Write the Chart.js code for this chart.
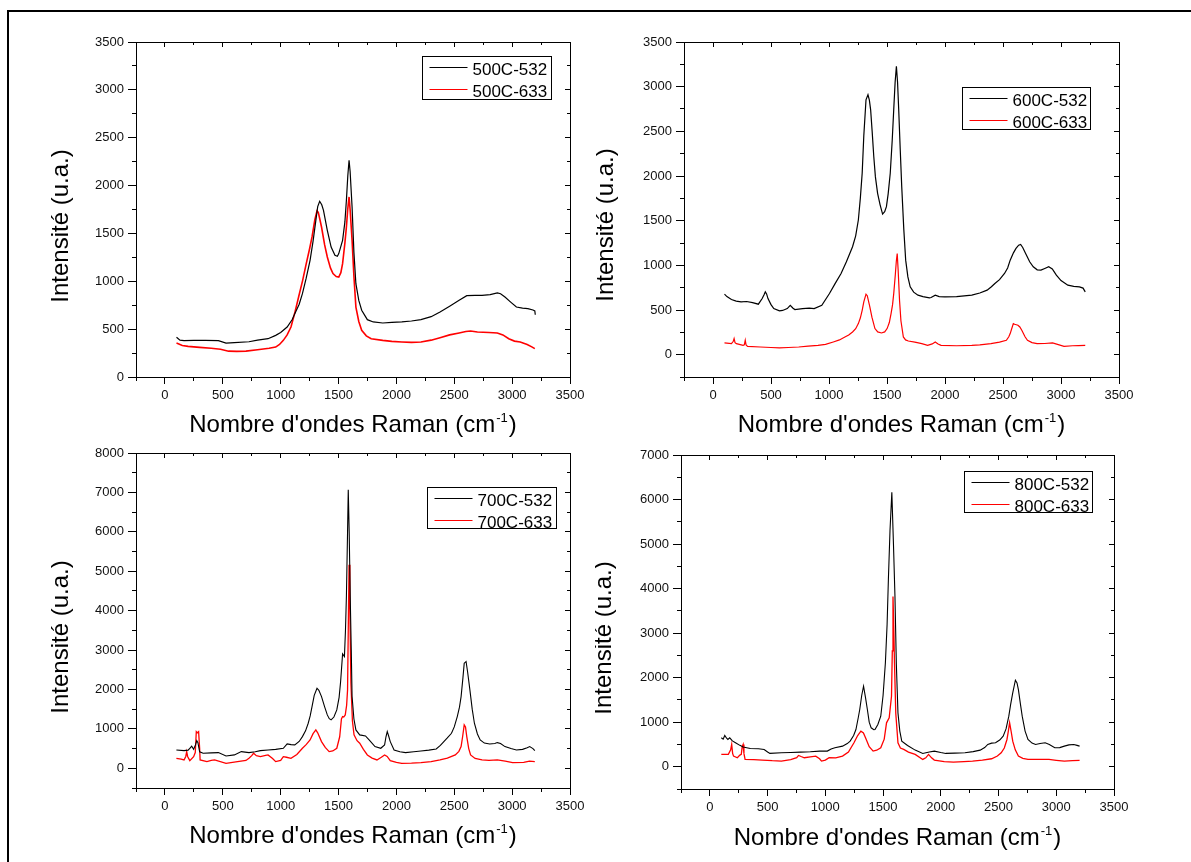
<!DOCTYPE html>
<html>
<head>
<meta charset="utf-8">
<script src="https://cdn.jsdelivr.net/npm/chart.js@4.4.1/dist/chart.umd.min.js"></script>
<style>
html,body{margin:0;padding:0;background:#fff;}
body{width:1191px;height:862px;position:relative;overflow:hidden;}
canvas{position:absolute;}
#frame{position:absolute;left:7px;top:10px;width:1220px;height:900px;border-top:2px solid #000;border-left:2px solid #000;}
</style>
</head>
<body>
<div id="frame"></div>
<canvas id="c1"></canvas>
<canvas id="c2"></canvas>
<canvas id="c3"></canvas>
<canvas id="c4"></canvas>
<script>
const FONT = "'Liberation Sans', Arial, Helvetica, sans-serif";

// ---- axis tick values ----
const xTickValues = [0, 500, 1000, 1500, 2000, 2500, 3000, 3500];
const xMinorValues = [-250, 250, 750, 1250, 1750, 2250, 2750, 3250];
const yTicks3500 = [0, 500, 1000, 1500, 2000, 2500, 3000, 3500];
const yMinor3500 = [250, 750, 1250, 1750, 2250, 2750, 3250];
const yMinor3500b = [-250, 250, 750, 1250, 1750, 2250, 2750, 3250];
const yTicks8000 = [0, 1000, 2000, 3000, 4000, 5000, 6000, 7000, 8000];
const yMinor8000 = [-500, 500, 1500, 2500, 3500, 4500, 5500, 6500, 7500];
const yTicks7000 = [0, 1000, 2000, 3000, 4000, 5000, 6000, 7000];
const yMinor7000 = [-500, 500, 1500, 2500, 3500, 4500, 5500, 6500];

// ---- titles ----
const yTitleText = "Intensité (u.a.)";
const xTitleMain = "Nombre d'ondes Raman (cm";
const xTitleSup = "-1";
const xTitleEnd = ")";

// ---- series labels ----
const labels500 = ["500C-532", "500C-633"];
const labels600 = ["600C-532", "600C-633"];
const labels700 = ["700C-532", "700C-633"];
const labels800 = ["800C-532", "800C-633"];

// ---- 500C ----
const wn500_532 = [100,130,165,250,350,462,528,600,726,800,891,957,1000,1056,1100,1122,1160,1188,1220,1254,1280,1304,1320,1337,1355,1370,1403,1436,1469,1490,1502,1535,1555,1568,1580,1591,1600,1617,1633,1650,1675,1700,1749,1800,1882,1960,2047,2130,2212,2300,2377,2460,2542,2608,2680,2740,2810,2872,2900,2938,2990,3037,3090,3136,3180,3196,3200];
const int500_532 = [415,385,380,383,382,380,355,360,368,385,400,435,465,522,600,662,760,871,1030,1219,1420,1637,1780,1836,1800,1741,1533,1358,1271,1262,1289,1428,1620,1846,2100,2264,2150,1776,1300,975,800,697,599,575,564,570,575,585,599,630,679,740,801,850,852,853,860,878,870,836,780,731,720,714,700,690,650];
const wn500_633 = [100,150,200,300,400,480,550,620,700,800,900,957,990,1023,1056,1089,1120,1155,1190,1221,1250,1271,1295,1314,1325,1340,1353,1380,1403,1430,1452,1480,1502,1520,1535,1555,1568,1580,1591,1600,1617,1633,1650,1675,1700,1740,1782,1882,1960,2047,2130,2212,2300,2377,2460,2542,2600,2641,2700,2800,2872,2920,2971,3020,3070,3130,3170,3196];
const int500_633 = [355,330,320,310,300,290,270,268,270,285,300,313,340,383,440,522,660,836,1010,1184,1340,1463,1640,1735,1720,1640,1567,1380,1254,1140,1080,1050,1045,1090,1184,1400,1567,1760,1881,1750,1428,1050,731,580,488,430,400,383,372,366,362,366,385,411,440,460,475,481,470,465,460,440,400,375,366,340,315,296];

// ---- 600C ----
const wn600_532 = [99,120,159,200,242,290,341,391,424,440,451,462,474,500,524,573,600,640,666,690,706,772,830,872,938,1004,1050,1104,1150,1203,1230,1253,1270,1286,1300,1319,1336,1348,1359,1372,1386,1400,1419,1440,1462,1480,1495,1510,1528,1545,1558,1570,1581,1591,1601,1614,1627,1645,1661,1680,1700,1730,1767,1810,1866,1880,1916,1950,1999,2100,2231,2300,2363,2400,2430,2470,2513,2540,2562,2590,2612,2635,2652,2670,2695,2730,2761,2795,2827,2860,2894,2925,2960,3000,3059,3110,3159,3190,3209];
const int600_532 = [677,650,617,600,591,595,583,565,628,670,703,680,628,560,516,490,495,516,553,520,505,516,520,516,553,684,790,909,1040,1208,1330,1507,1750,2031,2450,2853,2909,2850,2741,2500,2218,1990,1806,1680,1574,1600,1657,1800,2031,2400,2741,3050,3227,3050,2741,2300,1881,1400,1058,870,759,700,666,650,636,640,666,650,647,650,666,690,722,760,797,840,909,970,1058,1140,1189,1225,1234,1200,1133,1040,984,950,946,965,984,960,890,830,778,765,759,745,703];
const wn600_633 = [99,159,175,182,190,202,259,270,278,285,298,408,500,573,650,739,820,905,970,1037,1090,1137,1170,1203,1230,1253,1270,1286,1300,1319,1330,1352,1370,1396,1420,1452,1480,1501,1520,1535,1548,1558,1572,1580,1588,1596,1608,1620,1641,1660,1684,1740,1800,1850,1890,1916,1940,1966,2100,2231,2300,2396,2470,2529,2550,2562,2575,2589,2600,2615,2629,2645,2662,2690,2711,2750,2794,2860,2927,2970,3026,3100,3150,3209];
const int600_633 = [131,123,150,180,135,123,105,110,161,110,93,86,80,75,80,86,95,105,115,142,165,198,220,254,290,348,410,497,590,677,660,535,420,292,255,243,255,292,360,460,560,684,900,1040,1133,950,610,380,198,165,153,140,123,105,120,142,120,105,100,105,110,123,140,161,200,236,290,348,340,335,329,310,273,200,161,135,123,125,131,115,93,100,102,105];

// ---- 700C ----
const wn700_532 = [99,165,200,215,231,248,264,275,285,300,330,400,462,528,600,660,726,780,825,891,957,1023,1056,1090,1122,1160,1188,1215,1238,1255,1271,1290,1314,1330,1353,1380,1403,1420,1436,1460,1485,1505,1518,1535,1551,1560,1568,1578,1584,1592,1601,1610,1617,1633,1650,1683,1733,1770,1815,1865,1898,1910,1921,1933,1947,1980,2030,2079,2150,2212,2280,2344,2380,2410,2440,2476,2500,2526,2545,2559,2575,2586,2602,2615,2635,2655,2674,2700,2724,2760,2806,2850,2872,2900,2938,2990,3037,3090,3130,3152,3180,3196];
const int700_532 = [466,449,460,508,560,483,593,700,650,420,381,390,398,313,340,423,398,420,449,466,480,508,618,600,593,680,804,950,1143,1330,1566,1850,2032,1980,1820,1560,1355,1260,1228,1300,1482,1800,2201,2904,2837,3500,4361,6000,7070,6000,4361,3000,1820,1250,974,847,821,700,550,508,593,800,931,820,677,466,420,398,420,440,460,491,580,677,770,889,1050,1312,1550,1820,2300,2667,2710,2450,1990,1500,1143,870,720,640,618,630,652,630,550,500,466,480,520,550,500,449];
const wn700_633 = [99,140,165,180,188,196,215,248,262,271,280,291,300,304,363,400,429,528,627,700,726,750,766,790,825,870,891,930,957,1000,1023,1050,1089,1140,1188,1220,1254,1280,1304,1320,1353,1385,1419,1450,1485,1510,1525,1535,1545,1558,1570,1578,1586,1591,1598,1607,1620,1634,1660,1683,1715,1749,1790,1832,1870,1898,1920,1947,2000,2046,2130,2212,2300,2377,2440,2509,2540,2559,2572,2586,2597,2608,2625,2641,2680,2740,2800,2872,2940,3004,3100,3150,3196];
const int700_633 = [254,230,212,300,423,300,195,296,400,931,900,931,500,212,169,200,212,127,169,200,254,320,381,320,296,330,339,250,169,200,296,280,254,350,508,600,720,880,974,900,677,530,423,440,508,800,1250,1312,1300,1355,1600,1990,4000,5165,4000,2159,1200,847,700,635,480,339,260,212,280,339,300,195,150,127,130,144,170,212,260,339,430,550,800,1100,1050,804,500,339,250,212,200,212,180,144,150,180,169];

// ---- 800C ----
const wn800_532 = [99,115,129,145,156,172,195,222,260,288,350,421,470,500,520,619,700,785,870,950,1017,1050,1083,1149,1190,1215,1245,1265,1285,1298,1315,1331,1348,1364,1380,1397,1420,1430,1455,1480,1500,1520,1535,1546,1560,1576,1590,1603,1615,1629,1645,1662,1712,1778,1844,1900,1944,2000,2043,2120,2209,2280,2341,2380,2407,2440,2474,2510,2540,2565,2589,2605,2623,2646,2660,2672,2690,2705,2730,2755,2790,2821,2860,2904,2940,2987,3030,3070,3110,3152,3180,3202];
const int800_532 = [650,620,702,640,612,650,580,538,480,441,410,403,388,330,299,314,320,329,335,351,351,400,426,463,520,575,700,836,1100,1285,1600,1807,1550,1285,1000,874,830,836,950,1135,1600,2330,3200,4197,5300,6161,5000,3824,2300,1210,800,575,478,373,299,330,351,320,299,305,314,340,373,430,500,530,538,600,687,850,1135,1400,1658,1942,1880,1733,1400,1135,800,612,530,500,520,538,500,426,430,463,490,500,480,463];
const wn800_633 = [99,139,160,180,189,197,205,238,260,272,280,288,295,305,380,454,540,619,700,752,768,790,818,870,917,950,967,1000,1033,1090,1149,1200,1248,1280,1308,1330,1348,1380,1414,1445,1480,1510,1530,1553,1573,1580,1586,1592,1599,1610,1629,1650,1679,1720,1778,1844,1870,1894,1920,1944,2030,2109,2200,2275,2360,2440,2490,2523,2550,2573,2585,2596,2610,2623,2645,2672,2710,2755,2850,2937,3000,3070,3140,3202];
const int800_633 = [276,276,280,380,500,300,239,202,260,276,450,500,300,164,160,149,135,127,160,202,254,230,202,220,239,180,127,150,202,200,239,330,538,700,799,760,650,450,351,370,426,620,986,1098,1583,2600,3824,3200,2330,1200,538,420,388,330,276,164,200,276,200,149,115,105,115,127,150,179,240,314,420,612,800,986,780,575,380,239,190,164,164,164,145,127,135,142];

function pts(xs, ys) { return xs.map((x, i) => ({ x: x, y: ys[i] })); }

// ---- layout of the four panels (absolute page pixels) ----
const YW = 46, XH = 30;
const PANELS = [
  { id: 'c1', canvas: [0, 0, 595, 445], area: [136, 42, 570, 377], y: [0, 3500], yMajor: yTicks3500, yMinor: yMinor3500,
    legend: [422, 56, 129, 43], yTitle: [68, 226], xTitleY: 432,
    sets: [[labels500[0], wn500_532, int500_532, '#000000', 1.2], [labels500[1], wn500_633, int500_633, '#ff0000', 1.6]] },
  { id: 'c2', canvas: [595, 0, 596, 445], area: [684, 42, 1119, 377], y: [-250, 3500], yMajor: yTicks3500, yMinor: yMinor3500b,
    legend: [962, 87, 128, 42], yTitle: [613, 225], xTitleY: 432,
    sets: [[labels600[0], wn600_532, int600_532, '#000000', 1.2], [labels600[1], wn600_633, int600_633, '#ff0000', 1.2]] },
  { id: 'c3', canvas: [0, 440, 595, 422], area: [136, 453, 570, 788], y: [-500, 8000], yMajor: yTicks8000, yMinor: yMinor8000,
    legend: [427, 487, 129, 41], yTitle: [68, 637], xTitleY: 843,
    sets: [[labels700[0], wn700_532, int700_532, '#000000', 1.1], [labels700[1], wn700_633, int700_633, '#ff0000', 1.3]] },
  { id: 'c4', canvas: [595, 440, 596, 422], area: [681, 455, 1114, 789], y: [-500, 7000], yMajor: yTicks7000, yMinor: yMinor7000,
    legend: [964, 471, 128, 41], yTitle: [611, 638], xTitleY: 845,
    sets: [[labels800[0], wn800_532, int800_532, '#000000', 1.1], [labels800[1], wn800_633, int800_633, '#ff0000', 1.3]] }
];

const decorPlugin = {
  id: 'decor',
  afterDraw(chart, args, o) {
    const ctx = chart.ctx;
    const ox = o.offset[0], oy = o.offset[1];
    ctx.save();
    // legend
    const lx = Math.round(o.legend[0] - ox) + 0.5, ly = Math.round(o.legend[1] - oy) + 0.5;
    ctx.fillStyle = '#fff';
    ctx.fillRect(lx, ly, o.legend[2], o.legend[3]);
    ctx.strokeStyle = '#000'; ctx.lineWidth = 1;
    ctx.strokeRect(lx, ly, o.legend[2], o.legend[3]);
    ctx.font = '17px ' + FONT;
    ctx.textAlign = 'left'; ctx.textBaseline = 'alphabetic';
    chart.data.datasets.forEach((ds, i) => {
      const cy = Math.round(ly + 10 + i * 22) + 0.5;
      ctx.strokeStyle = ds.borderColor; ctx.lineWidth = 1.2;
      ctx.beginPath(); ctx.moveTo(lx + 7, cy); ctx.lineTo(lx + 45, cy); ctx.stroke();
      ctx.fillStyle = '#000';
      ctx.fillText(ds.label, lx + 50, ly + 18.5 + i * 22);
    });
    // y title
    ctx.save();
    ctx.translate(o.yTitle[0] - ox, o.yTitle[1] - oy);
    ctx.rotate(-Math.PI / 2);
    ctx.font = '24px ' + FONT;
    ctx.textAlign = 'center'; ctx.textBaseline = 'alphabetic';
    ctx.fillStyle = '#000';
    ctx.fillText(yTitleText, 0, 0);
    ctx.restore();
    // x title with superscript
    const ca = chart.chartArea;
    const cx = (ca.left + ca.right) / 2;
    const by = o.xTitleY - oy;
    ctx.font = '24px ' + FONT;
    const w1 = ctx.measureText(xTitleMain).width, w3 = ctx.measureText(xTitleEnd).width;
    ctx.font = '13px ' + FONT;
    const w2 = ctx.measureText(xTitleSup).width;
    let x = cx - (w1 + w2 + w3 + 2) / 2;
    ctx.fillStyle = '#000'; ctx.textAlign = 'left';
    ctx.font = '24px ' + FONT; ctx.fillText(xTitleMain, x, by); x += w1 + 1;
    ctx.font = '13px ' + FONT; ctx.fillText(xTitleSup, x, by - 10); x += w2 + 1;
    ctx.font = '24px ' + FONT; ctx.fillText(xTitleEnd, x, by);
    ctx.restore();
  }
};

function setTicks(vals) { return (s) => { s.ticks = vals.map(v => ({ value: v })); }; }

function makeChart(p) {
  const cv = document.getElementById(p.id);
  cv.width = p.canvas[2]; cv.height = p.canvas[3];
  cv.style.left = p.canvas[0] + 'px'; cv.style.top = p.canvas[1] + 'px';
  cv.style.width = p.canvas[2] + 'px'; cv.style.height = p.canvas[3] + 'px';
  const pad = {
    left: p.area[0] - p.canvas[0] - YW,
    top: p.area[1] - p.canvas[1],
    right: p.canvas[0] + p.canvas[2] - p.area[2],
    bottom: p.canvas[1] + p.canvas[3] - p.area[3] - XH
  };
  const xr = { min: -250, max: 3500 };
  const yr = { min: p.y[0], max: p.y[1] };
  const tickFont = { family: FONT, size: 13 };
  const hidden = { display: false };
  const scales = {
    x: { type: 'linear', position: 'bottom', ...xr, weight: 1,
      afterBuildTicks: setTicks(xTickValues), afterFit: s => { s.height = XH; },
      ticks: { font: tickFont, color: '#111', padding: 4, maxRotation: 0, autoSkip: false, callback: v => String(v) },
      grid: { drawOnChartArea: false, tickLength: 7, tickColor: '#000', tickWidth: 1 },
      border: { display: true, color: '#000', width: 1 } },
    xm: { type: 'linear', position: 'bottom', ...xr, weight: 0,
      afterBuildTicks: setTicks(xMinorValues), afterFit: s => { s.height = 0; },
      ticks: hidden, grid: { drawOnChartArea: false, tickLength: 4, tickColor: '#000', tickWidth: 1 }, border: { display: false } },
    xt: { type: 'linear', position: 'top', ...xr, weight: 1,
      afterBuildTicks: setTicks(xTickValues), afterFit: s => { s.height = 0; },
      ticks: hidden, grid: { drawOnChartArea: false, tickLength: -5, tickColor: '#000', tickWidth: 1 },
      border: { display: true, color: '#000', width: 1 } },
    xtm: { type: 'linear', position: 'top', ...xr, weight: 0,
      afterBuildTicks: setTicks(xMinorValues), afterFit: s => { s.height = 0; },
      ticks: hidden, grid: { drawOnChartArea: false, tickLength: -3, tickColor: '#000', tickWidth: 1 }, border: { display: false } },
    y: { type: 'linear', position: 'left', ...yr, weight: 1,
      afterBuildTicks: setTicks(p.yMajor), afterFit: s => { s.width = YW; },
      ticks: { font: tickFont, color: '#111', padding: 4, autoSkip: false, callback: v => String(v) },
      grid: { drawOnChartArea: false, tickLength: 8, tickColor: '#000', tickWidth: 1 },
      border: { display: true, color: '#000', width: 1 } },
    ym: { type: 'linear', position: 'left', ...yr, weight: 0,
      afterBuildTicks: setTicks(p.yMinor), afterFit: s => { s.width = 0; },
      ticks: hidden, grid: { drawOnChartArea: false, tickLength: 4, tickColor: '#000', tickWidth: 1 }, border: { display: false } },
    yr: { type: 'linear', position: 'right', ...yr, weight: 1,
      afterBuildTicks: setTicks(p.yMajor), afterFit: s => { s.width = 0; },
      ticks: hidden, grid: { drawOnChartArea: false, tickLength: -5, tickColor: '#000', tickWidth: 1 },
      border: { display: true, color: '#000', width: 1 } },
    yrm: { type: 'linear', position: 'right', ...yr, weight: 0,
      afterBuildTicks: setTicks(p.yMinor), afterFit: s => { s.width = 0; },
      ticks: hidden, grid: { drawOnChartArea: false, tickLength: -3, tickColor: '#000', tickWidth: 1 }, border: { display: false } }
  };
  return new Chart(cv, {
    type: 'line',
    data: {
      datasets: p.sets.map(s => ({
        label: s[0], data: pts(s[1], s[2]), borderColor: s[3], backgroundColor: s[3],
        borderWidth: s[4], pointRadius: 0, tension: 0, fill: false, xAxisID: 'x', yAxisID: 'y'
      }))
    },
    options: {
      responsive: false, animation: false, devicePixelRatio: 1,
      layout: { padding: pad },
      scales: scales,
      plugins: {
        legend: { display: false }, tooltip: { enabled: false },
        decor: { offset: [p.canvas[0], p.canvas[1]], legend: p.legend, yTitle: p.yTitle, xTitleY: p.xTitleY }
      }
    },
    plugins: [decorPlugin]
  });
}

Chart.defaults.font.family = FONT;
PANELS.forEach(makeChart);
</script>
</body>
</html>
